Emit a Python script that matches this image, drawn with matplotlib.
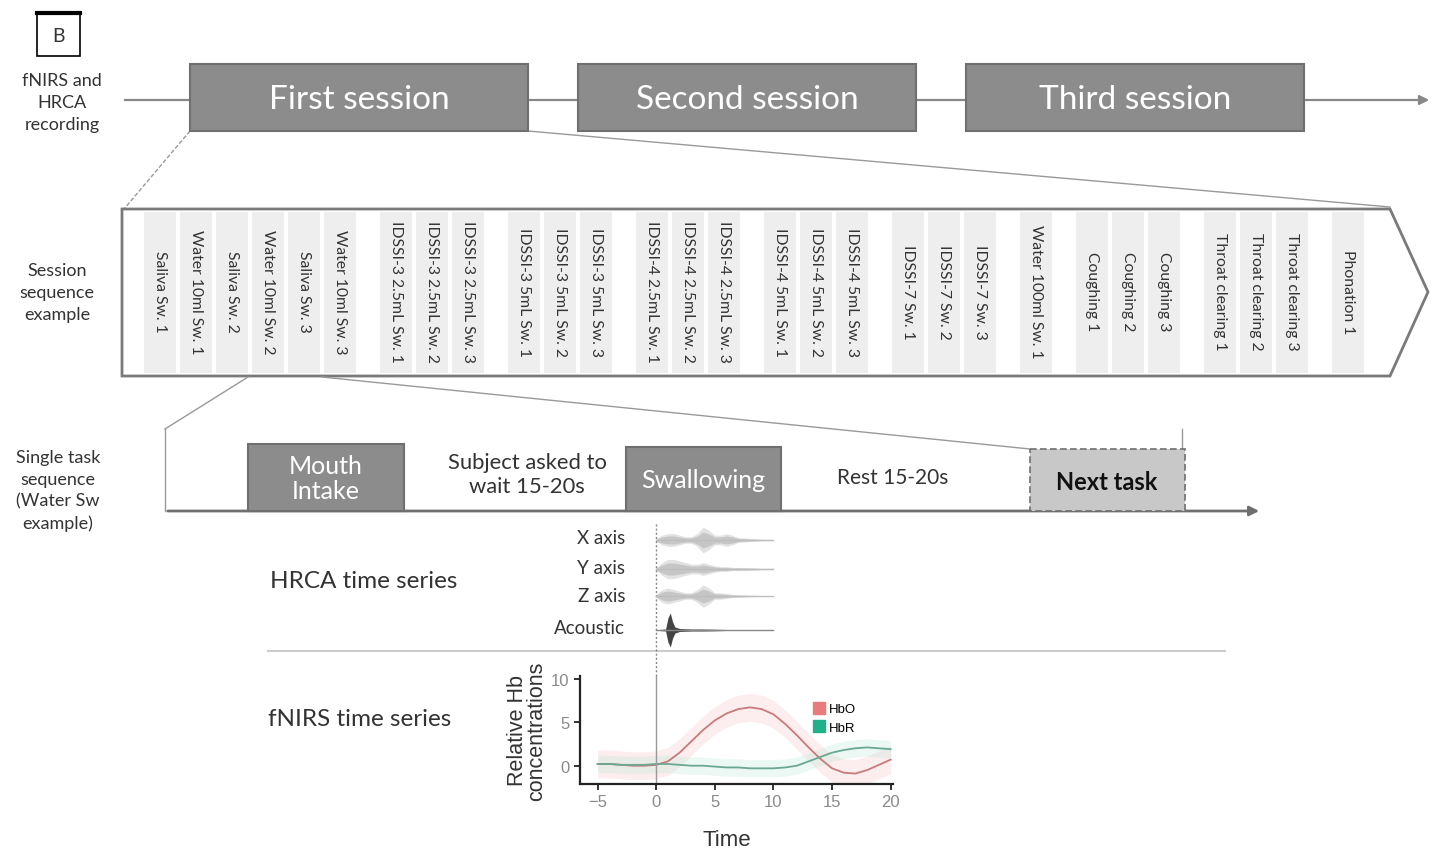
import numpy as np
import matplotlib.pyplot as plt
from matplotlib.patches import Rectangle, Polygon
from matplotlib.lines import Line2D

plt.rcParams['font.family'] = ['Lato', 'DejaVu Sans']

# sessions on the recording timeline
sessions = ['First session', 'Second session', 'Third session']

# task groups inside one session
task_groups = [
    ['Saliva Sw. 1', 'Water 10ml Sw. 1', 'Saliva Sw. 2', 'Water 10ml Sw. 2', 'Saliva Sw. 3', 'Water 10ml Sw. 3'],
    ['IDSSI-3 2.5mL Sw. 1', 'IDSSI-3 2.5mL Sw. 2', 'IDSSI-3 2.5mL Sw. 3'],
    ['IDSSI-3 5mL Sw. 1', 'IDSSI-3 5mL Sw. 2', 'IDSSI-3 5mL Sw. 3'],
    ['IDSSI-4 2.5mL Sw. 1', 'IDSSI-4 2.5mL Sw. 2', 'IDSSI-4 2.5mL Sw. 3'],
    ['IDSSI-4 5mL Sw. 1', 'IDSSI-4 5mL Sw. 2', 'IDSSI-4 5mL Sw. 3'],
    ['IDSSI-7 Sw. 1', 'IDSSI-7 Sw. 2', 'IDSSI-7 Sw. 3'],
    ['Water 100ml Sw. 1'],
    ['Coughing 1', 'Coughing 2', 'Coughing 3'],
    ['Throat clearing 1', 'Throat clearing 2', 'Throat clearing 3'],
    ['Phonation 1'],
]

# HRCA channel envelopes (time in s, half amplitude in px)
hrca_t = [0, 0.5, 1, 1.5, 2, 2.5, 3, 3.5, 4, 4.5, 5, 5.5, 6, 6.5, 7, 8, 9, 10]
x_env = [1, 3, 4, 4, 3, 2, 2, 4, 8, 6, 3, 3, 4, 3, 1.5, 1, 0.5, 0.3]
y_env = [1, 4, 6, 6, 5, 4, 3, 3, 4, 3, 2, 1.5, 1.5, 1, 1, 0.8, 0.5, 0.5]
z_env = [1, 4, 5, 4, 3, 2, 2, 4, 7, 5, 2, 2, 1.5, 1, 0.8, 0.5, 0.3, 0.2]
acoustic_t = [0, 0.8, 1.0, 1.2, 1.4, 1.6, 2, 3, 4, 5, 6, 8, 10]
acoustic_env = [0.3, 1, 12, 17, 8, 3, 1.5, 1, 1, 0.8, 0.5, 0.3, 0.2]
hrca_names = ['X axis', 'Y axis', 'Z axis', 'Acoustic']

# fNIRS haemodynamic response
t = [-5, -4, -3, -2, -1, 0, 1, 2, 3, 4, 5, 6, 7, 8, 9, 10, 11, 12, 13, 14, 15, 16, 17, 18, 19, 20]
hbo = [0.2, 0.2, 0.1, 0.0, 0.0, 0.1, 0.5, 1.5, 2.8, 4.1, 5.2, 6.0, 6.5, 6.7, 6.5, 5.9, 4.8, 3.5, 2.1,
       0.8, -0.3, -0.8, -0.9, -0.5, 0.1, 0.7]
hbr = [0.2, 0.2, 0.1, 0.1, 0.1, 0.2, 0.2, 0.1, 0.0, 0.0, -0.1, -0.2, -0.2, -0.3, -0.3, -0.3, -0.2,
       0.0, 0.5, 1.0, 1.5, 1.8, 2.0, 2.1, 2.0, 1.9]
hbo_spread = 1.6
hbr_spread = 1.0

fig = plt.figure(figsize=(14.4, 8.53), dpi=100)
ax = fig.add_axes([0, 0, 1, 1])
ax.set_xlim(0, 1440)
ax.set_ylim(853, 0)
ax.axis('off')

dark = '#8c8c8c'
edge = '#6f6f6f'
txt = '#333333'

# panel letter
ax.add_patch(Rectangle((37, 14), 43, 43, fill=False, ec='black', lw=1.2))
ax.plot([37, 80], [14, 14], color='black', lw=3)
ax.text(58.5, 36, 'B', ha='center', va='center', fontsize=14, color=txt)

# left side labels
ax.text(62, 103, 'fNIRS and\nHRCA\nrecording', ha='center', va='center', fontsize=13,
        color=txt, linespacing=1.45)
ax.text(57, 293, 'Session\nsequence\nexample', ha='center', va='center', fontsize=13,
        color=txt, linespacing=1.45)
ax.text(58, 491, 'Single task\nsequence\n(Water Sw\nexample)', ha='center', va='center',
        fontsize=13, color=txt, linespacing=1.42)

# recording timeline with sessions
ax.annotate('', xy=(1432, 101), xytext=(122, 101),
            arrowprops=dict(arrowstyle='-|>', color='#888888', lw=1.6, mutation_scale=14))
for i, name in enumerate(sessions):
    x0 = 190 + i * 388
    ax.add_patch(Rectangle((x0, 65), 338, 67, fc=dark, ec=edge, lw=1.5, zorder=3))
    ax.text(x0 + 169, 100, name, ha='center', va='center', fontsize=24, color='white', zorder=4)

# zoom lines from the first session
ax.plot([190, 124], [132, 210], color='#999999', lw=1, ls=(0, (3, 1.5)))
ax.plot([528, 1390], [132, 208], color='#999999', lw=1)

# session sequence arrow
seq = Polygon([(122, 210), (1390, 210), (1428, 293), (1390, 377), (122, 377)], closed=True,
              fc='white', ec='#7a7a7a', lw=2, zorder=2)
ax.add_patch(seq)
xc = 160
for g, group in enumerate(task_groups):
    for j, label in enumerate(group):
        ax.add_patch(Rectangle((xc - 16, 213), 32, 161, fc='#eeeeee', ec='none', zorder=2.5))
        ax.text(xc, 292, label, rotation=270, ha='center', va='center', fontsize=11.3,
                color=txt, zorder=3)
        if j < len(group) - 1:
            xc += 36
    xc += 56

# zoom lines towards the single task
ax.plot([248, 165], [378, 430], color='#999999', lw=1)
ax.plot([322, 1030], [378, 450], color='#999999', lw=1)
ax.plot([165, 165], [430, 512], color='#999999', lw=1)
ax.plot([1182, 1182], [430, 450], color='#999999', lw=1)

# single task sequence
ax.annotate('', xy=(1262, 512), xytext=(165, 512),
            arrowprops=dict(arrowstyle='-|>', color='#6f6f6f', lw=2, mutation_scale=14))
ax.add_patch(Rectangle((248, 445), 156, 67, fc=dark, ec=edge, lw=1.5, zorder=3))
ax.text(326, 479, 'Mouth\nIntake', ha='center', va='center', fontsize=18, color='white',
        linespacing=1.12, zorder=4)
ax.text(527, 475, 'Subject asked to\nwait 15-20s', ha='center', va='center', fontsize=15.8,
        color=txt, linespacing=1.25)
ax.add_patch(Rectangle((626, 448), 155, 64, fc=dark, ec=edge, lw=1.5, zorder=3))
ax.text(703, 480, 'Swallowing', ha='center', va='center', fontsize=18, color='white', zorder=4)
ax.text(893, 478, 'Rest 15-20s', ha='center', va='center', fontsize=15, color=txt)
ax.add_patch(Rectangle((1030, 450), 155, 62, fc='#c8c8c8', ec='#6f6f6f', lw=1.2,
                       ls=(0, (4, 2)), zorder=3))
ax.text(1107, 482, 'Next task', ha='center', va='center', fontsize=17, fontweight='bold',
        color='#111111', zorder=4)

# HRCA block
ax.text(364, 581, 'HRCA time series', ha='center', va='center', fontsize=17.5, color=txt)
for name, yc in zip(hrca_names, [539, 569, 597, 628]):
    ax.text(625, yc, name, ha='right', va='center', fontsize=13.5, color=txt)
ax.plot([268, 1225], [652, 652], color='#cccccc', lw=1.5)
ax.text(360, 719, 'fNIRS time series', ha='center', va='center', fontsize=17.5, color=txt)

# shared time scale for both signal panels
tmin, tmax = -6.5, 20.2
left_px, right_px = 580, 893
L = left_px / 1440
W = (right_px - left_px) / 1440

hx = fig.add_axes([L, 1 - 677 / 853, W, (677 - 525) / 853])
hx.set_xlim(tmin, tmax)
hx.set_ylim(677, 525)
hx.axis('off')
hx.patch.set_alpha(0)
hx.axvline(0, color='#888888', lw=1, ls=(0, (1.5, 1.5)))
for env, yc in zip([x_env, y_env, z_env], [541, 570, 597]):
    e = np.array(env)
    hx.fill_between(hrca_t, yc - 1.6 * e, yc + 1.6 * e, color='#e2e2e2', lw=0)
    hx.fill_between(hrca_t, yc - e, yc + e, color='#c6c6c6', lw=0)
    hx.plot(hrca_t, [yc] * len(hrca_t), color='#bdbdbd', lw=1)
ae = np.array(acoustic_env)
hx.fill_between(acoustic_t, 631 - ae, 631 + ae, color='#444444', lw=0)
hx.plot(acoustic_t, [631] * len(acoustic_t), color='#888888', lw=1)

# fNIRS panel
fx = fig.add_axes([L, 1 - 785 / 853, W, (785 - 677) / 853])
fx.patch.set_alpha(0)
fx.set_xlim(tmin, tmax)
fx.set_ylim(-2.1, 10.3)
hbo_a, hbr_a = np.array(hbo), np.array(hbr)
fx.fill_between(t, hbo_a - hbo_spread, hbo_a + hbo_spread, color='#f4b6b6', alpha=0.22, lw=0)
fx.fill_between(t, hbr_a - hbr_spread, hbr_a + hbr_spread, color='#a8e3d0', alpha=0.22, lw=0)
fx.plot(t, hbo, color='#c97a7a', lw=1.3)
fx.plot(t, hbr, color='#6aa893', lw=1.3)
fx.axvline(0, color='#999999', lw=1)
fx.set_xticks([-5, 0, 5, 10, 15, 20])
fx.set_yticks([0, 5, 10])
for s in ['top', 'right']:
    fx.spines[s].set_visible(False)
for s in ['left', 'bottom']:
    fx.spines[s].set_color('#222222')
    fx.spines[s].set_linewidth(1.6)
fx.tick_params(colors='#222222', labelcolor='#8a8a8a', labelsize=12, width=1.3, length=4)
for lab in fx.get_xticklabels() + fx.get_yticklabels():
    lab.set_family('Liberation Sans')
fx.set_xlabel('Time', fontsize=16, family='Liberation Sans', color='#333333', labelpad=14)
fx.xaxis.label.set_x(0.47)
fx.set_ylabel('Relative Hb\nconcentrations', fontsize=15.5, family='Liberation Sans',
              color='#333333', linespacing=0.85, labelpad=3)
handles = [Line2D([], [], marker='s', ls='none', color='#ea7b7d', markersize=8),
           Line2D([], [], marker='s', ls='none', color='#22b08a', markersize=8)]
fx.legend(handles, ['HbO', 'HbR'], loc='upper left', bbox_to_anchor=(0.71, 0.86), frameon=False,
          handlelength=0.8, handletextpad=0.3, labelspacing=0.5,
          prop={'family': 'Liberation Sans', 'size': 9.5})

fig.savefig('out.png', dpi=100)
